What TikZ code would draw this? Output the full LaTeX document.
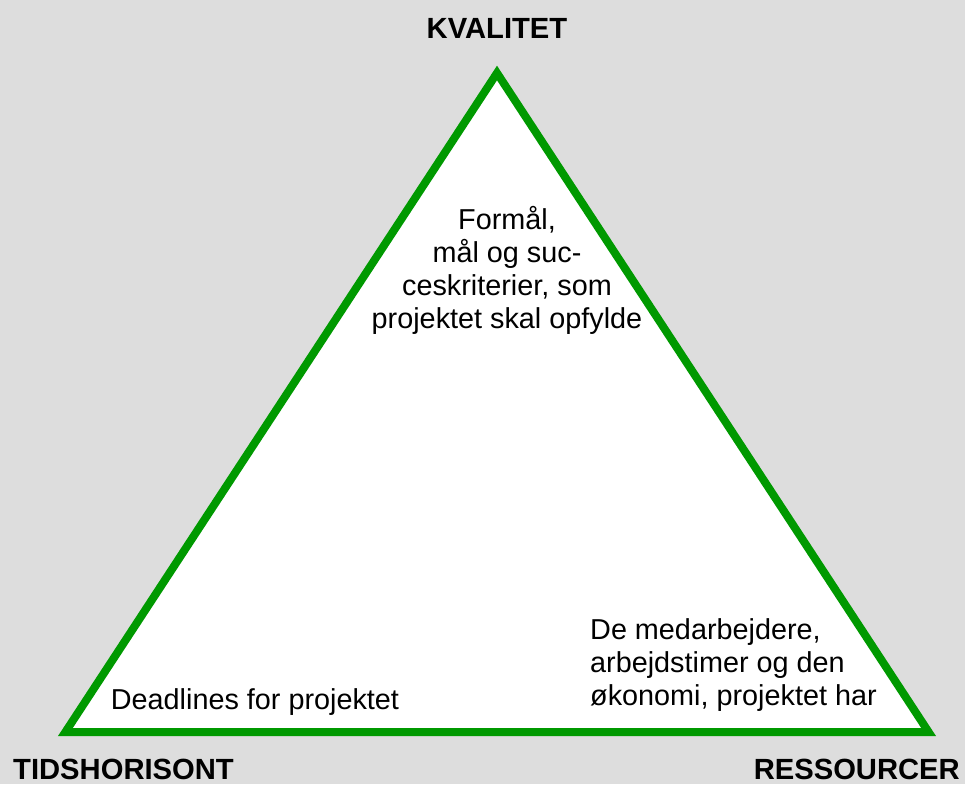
\documentclass[tikz,border=0pt]{standalone}
\usepackage{fontspec}
\setmainfont{Liberation Sans}
\definecolor{pagegray}{RGB}{221,221,221}
\definecolor{edgegreen}{RGB}{0,153,0}
\begin{document}
\begin{tikzpicture}[x=1pt,y=-1pt,
  corner/.style={font=\fontsize{29.2}{33}\selectfont\bfseries, inner sep=0pt},
  body/.style={font=\fontsize{28.8}{33}\selectfont, inner sep=0pt},
  frame/.style={draw=edgegreen, line width=8pt, line join=miter, fill=white}]
  % canvas
  \fill[pagegray] (0,0) rectangle (965,784);
  \useasboundingbox (0,0) rectangle (965,784);
  % triangle corners
  \coordinate (apex) at (497,73);
  \coordinate (left) at (65.4,732);
  \coordinate (right) at (928.6,732);
  \draw[frame] (apex) -- (left) -- (right) -- cycle;
  % corner labels
  \node[corner, anchor=base] (kval) at (497,38) {KVALITET};
  \node[corner, anchor=base west] (tid) at (13,779.5) {TIDSHORISONT};
  \node[corner, anchor=base east] (res) at (960,779.5) {RESSOURCER};
  % texts inside the triangle
  \node[body, align=center, anchor=north] (goal) at (507,206)
    {Formål,\\mål og suc-\\ceskriterier, som\\projektet skal opfylde};
  \node[body, anchor=base west] (dead) at (110.7,709.3) {Deadlines for projektet};
  \node[body, align=left, anchor=north west] (means) at (590,618)
    {De medarbejdere,\\arbejdstimer og den\\økonomi, projektet har};
\end{tikzpicture}
\end{document}
